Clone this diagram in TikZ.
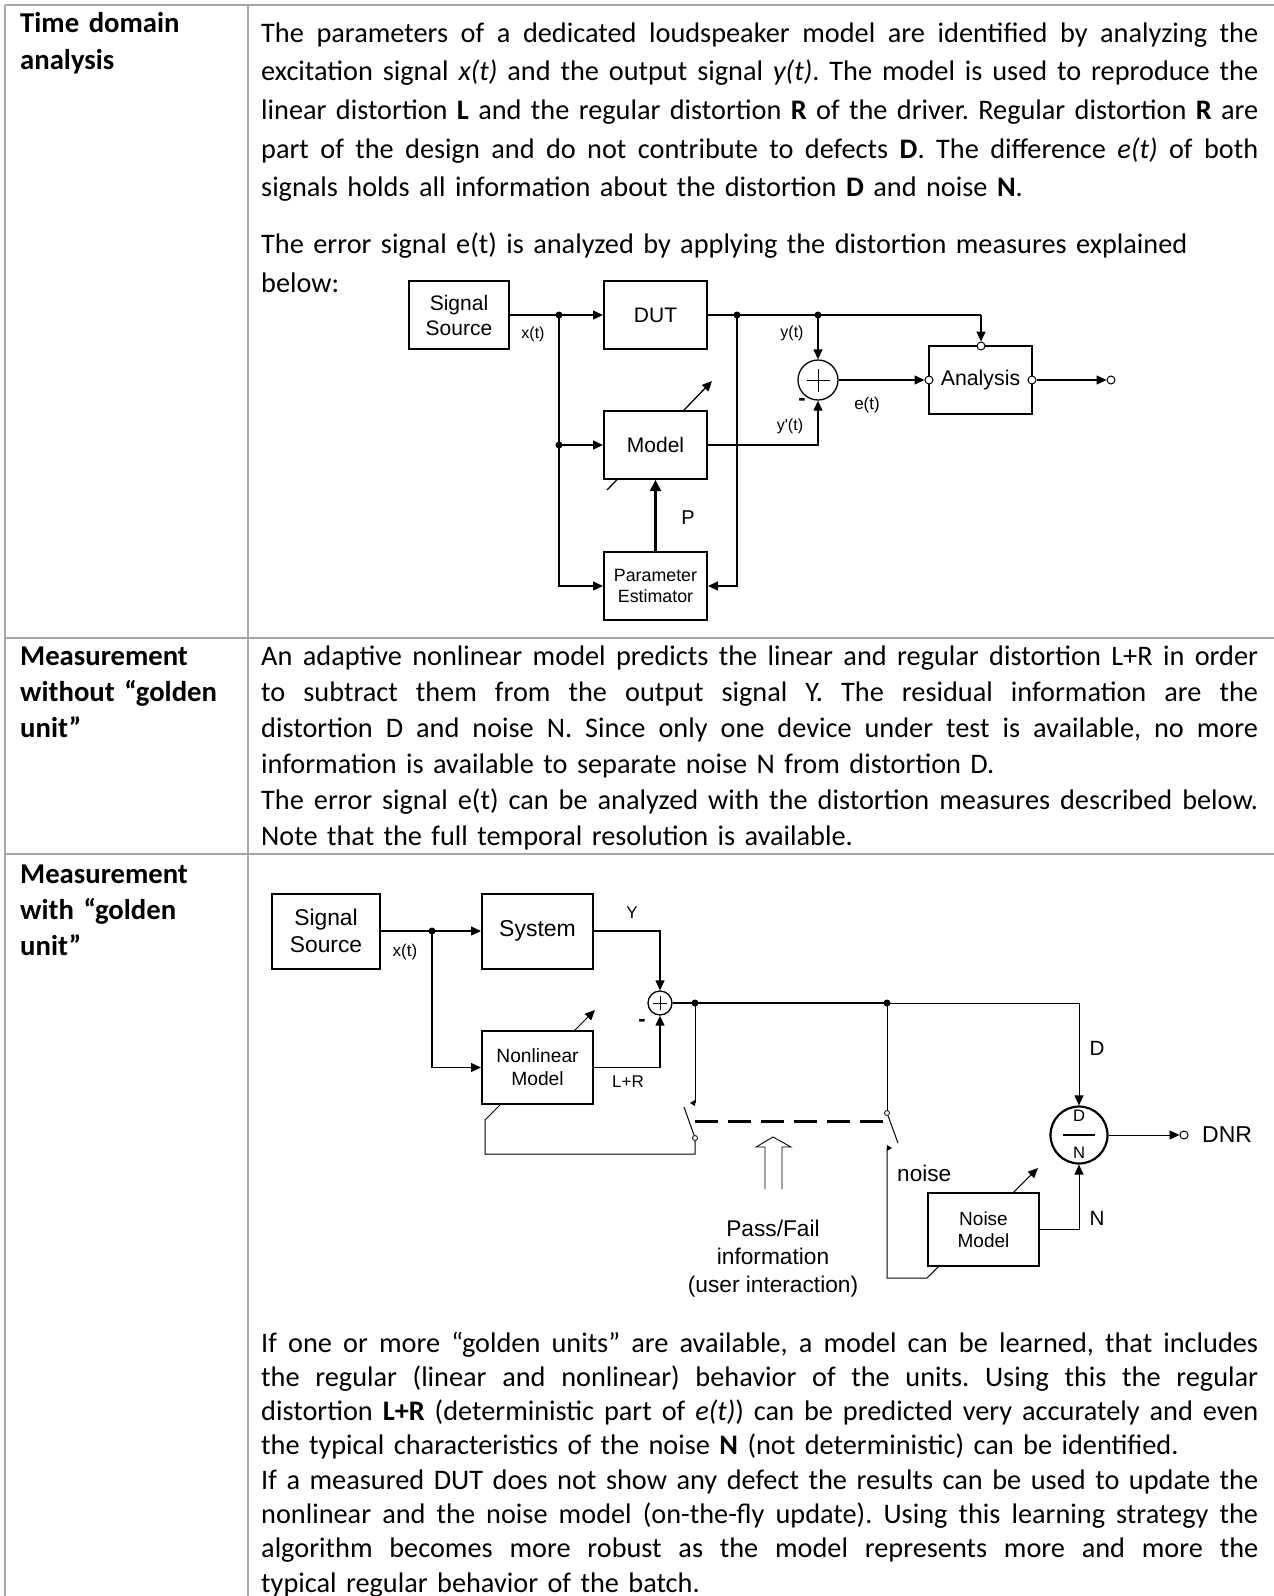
\documentclass[tikz,border=0pt]{standalone}
\usepackage{fontspec}
\setmainfont{Carlito}
\newfontfamily\arial{Liberation Sans}
\usetikzlibrary{arrows.meta}
\pgfdeclarelayer{bg}
\pgfsetlayers{bg,main}
\newcommand\J[1]{{\spaceskip=\fontdimen2\font plus 3\fontdimen2\font minus .35\fontdimen2\font\relax\makebox[\linewidth][s]{#1}}}
\begin{document}
\begin{tikzpicture}[x=1pt,y=-1pt,
  tline/.style={draw=black!35,line width=1.3pt},
  body/.style={anchor=base west,inner sep=0pt,text width=997pt,align=left},
  head/.style={anchor=base west,inner sep=0pt,text width=225pt,align=left},
  blk/.style={draw,line width=2pt,fill=white,inner sep=0pt,align=center},
  wire/.style={line width=1.3pt},
  thinw/.style={line width=1pt},
  arr/.style={-{Triangle[length=10pt,width=9pt]}},
  jdot/.style={circle,fill,inner sep=0pt,minimum size=7pt},
  ocirc/.style={circle,draw,fill=white,inner sep=0pt,minimum size=8pt,line width=1pt},
  scirc/.style={circle,draw,fill=white,inner sep=0pt,minimum size=5pt,line width=0.8pt},
  lab/.style={inner sep=0pt},
]
\useasboundingbox (0,0) rectangle (1274,1596);
\begin{pgfonlayer}{bg}
\fill[white] (0,0) rectangle (1274,1596);
\draw[tline] (5,5) -- (1274,5);
\draw[tline] (5,638) -- (1274,638);
\draw[tline] (5,854) -- (1274,854);
\draw[tline] (5,5) -- (5,1596);
\draw[tline] (248,5) -- (248,1596);
\end{pgfonlayer}

% ---------- table text ----------
\node[head,font=\bfseries\fontsize{28.7}{37}\selectfont] (h1) at (20,32.5) {Time domain\\analysis};
\node[head,font=\bfseries\fontsize{28.7}{36}\selectfont] (h2) at (20,665) {Measurement\\without “golden\\unit”};
\node[head,font=\bfseries\fontsize{28.7}{36}\selectfont] (h3) at (20,883) {Measurement\\with “golden\\unit”};

\node[body,font=\frenchspacing\fontsize{28.3}{38.7}\selectfont] (t1) at (261,42) {%
\J{The parameters of a dedicated loudspeaker model are identified by analyzing the}\\
\J{excitation signal \textit{x(t)} and the output signal \textit{y(t)}. The model is used to reproduce the}\\
\J{linear distortion \textbf{L} and the regular distortion \textbf{R} of the driver. Regular distortion \textbf{R} are}\\
\J{part of the design and do not contribute to defects \textbf{D}. The difference \textit{e(t)} of both}\\
signals holds all information about the distortion \textbf{D} and noise \textbf{N}.};

\node[body,font=\frenchspacing\fontsize{28.3}{39}\selectfont] (t2) at (261,253) {%
The error signal e(t) is analyzed by applying the distortion measures explained\\
below:};

\node[body,font=\frenchspacing\fontsize{28.3}{36}\selectfont] (t3) at (261,665) {%
\J{An adaptive nonlinear model predicts the linear and regular distortion L+R in order}\\
\J{to subtract them from the output signal Y. The residual information are the}\\
\J{distortion D and noise N. Since only one device under test is available, no more}\\
information is available to separate noise N from distortion D.\\
\J{The error signal e(t) can be analyzed with the distortion measures described below.}\\
Note that the full temporal resolution is available.};

\node[body,font=\frenchspacing\fontsize{28.3}{34.3}\selectfont] (t4) at (261,1352) {%
\J{If one or more “golden units” are available, a model can be learned, that includes}\\
\J{the regular (linear and nonlinear) behavior of the units. Using this the regular}\\
\J{distortion \textbf{L+R} (deterministic part of \textit{e(t)}) can be predicted very accurately and even}\\
the typical characteristics of the noise \textbf{N} (not deterministic) can be identified.\\
\J{If a measured DUT does not show any defect the results can be used to update the}\\
\J{nonlinear and the noise model (on-the-fly update). Using this learning strategy the}\\
\J{algorithm becomes more robust as the model represents more and more the}\\
typical regular behavior of the batch.};

% ---------- diagram 1 ----------
\coordinate (ad1s) at (607,490);
\coordinate (ad1e) at (712,381);
\begin{pgfonlayer}{bg}
\draw[wire,arr] (ad1s) -- (ad1e);
\end{pgfonlayer}

\node[blk,minimum width=100pt,minimum height=68pt,font=\arial\fontsize{21}{25}\selectfont] (ss1) at (459,315) {Signal\\Source};
\node[blk,minimum width=103pt,minimum height=68pt,font=\arial\fontsize{21}{25}\selectfont] (dut) at (655.5,315) {DUT};
\node[blk,minimum width=103pt,minimum height=68pt,font=\arial\fontsize{21}{25}\selectfont] (model) at (655.5,445) {Model};
\node[blk,minimum width=103pt,minimum height=68pt,font=\arial\fontsize{17.8}{21}\selectfont] (pe) at (655.5,586) {Parameter\\Estimator};
\node[blk,minimum width=103pt,minimum height=68pt,font=\arial\fontsize{21.3}{25}\selectfont] (an) at (980.5,380) {Analysis};
\node[circle,draw,fill=white,line width=1.3pt,minimum size=40pt,inner sep=0pt] (sum1) at (818,380) {};
\draw[line width=1pt] ([xshift=-11.5pt]sum1.center) -- ([xshift=11.5pt]sum1.center);
\draw[line width=1pt] ([yshift=-11.5pt]sum1.center) -- ([yshift=11.5pt]sum1.center);

\node[jdot] (j1) at (559,315) {};
\node[jdot] (j2) at (559,445) {};
\node[jdot] (j3) at (737,315) {};
\node[jdot] (j4) at (818,315) {};
\coordinate (cA) at (981,315);
\node[ocirc] (oT) at (981,346) {};
\node[ocirc] (oL) at (929,380) {};
\node[ocirc] (oR) at (1032,380) {};
\node[ocirc] (out1) at (1111,380) {};

\draw[wire,arr] (ss1.east) -- (dut.west);
\draw[wire,arr] (j1.center) -- (j2.center) -- (model.west);
\draw[wire,arr] (j2.center) |- (pe.west);
\draw[wire] (dut.east) -- (cA);
\draw[wire,arr] (cA) -- (oT.north);
\draw[wire,arr] (j3.center) |- (pe.east);
\draw[wire,arr] (j4.center) -- (sum1.north);
\draw[wire,arr] (model.east) -| (sum1.south);
\draw[wire,arr] (sum1.east) -- (oL.west);
\draw[wire,arr] (oR.east) -- (out1.west);
\draw[line width=2.5pt,-{Triangle[length=11pt,width=11pt]}] (pe.north) -- (model.south);

\node[lab,font=\arial\fontsize{16}{19}\selectfont] (lx1) at (533,334) {x(t)};
\node[lab,font=\arial\fontsize{16}{19}\selectfont] (ly1) at (792,333) {y(t)};
\node[lab,font=\arial\fontsize{16}{19}\selectfont] (lyp1) at (790,426) {y'(t)};
\node[lab,font=\arial\fontsize{17}{20}\selectfont] (le1) at (867,405) {e(t)};
\node[lab,font=\arial\fontsize{20}{24}\selectfont] (lp1) at (688,518) {P};
\node[lab,font=\arial\bfseries\fontsize{22}{24}\selectfont] (lm1) at (802,402) {-};

% ---------- diagram 2 ----------
\coordinate (fb1) at (695,1154);
\coordinate (fb2) at (485,1154);
\coordinate (fb3) at (485,1120);
\coordinate (ad2e) at (595,1010);
\coordinate (nb1) at (887,1278);
\coordinate (nb2) at (927,1278);
\coordinate (ad3e) at (1038,1168);
\coordinate (sw1c) at (695,1103);
\coordinate (sw1b) at (684,1107);
\coordinate (sw2b) at (898,1143);
\coordinate (sw2c) at (887,1148);
\coordinate (ds1) at (695,1121);
\coordinate (ds2) at (885,1121);
\node[scirc] (sw1p) at (695,1138) {};
\node[scirc] (sw2p) at (887,1113) {};

\begin{pgfonlayer}{bg}
\draw[thinw,arr] (sw1p.south) -- (fb1) -- (fb2) -- (fb3) -- (ad2e);
\draw[thinw,arr] (sw2c) -- (nb1) -- (nb2) -- (ad3e);
\end{pgfonlayer}

\node[blk,minimum width=108pt,minimum height=75pt,font=\arial\fontsize{22.8}{27}\selectfont] (ss2) at (326,931) {Signal\\Source};
\node[blk,minimum width=111pt,minimum height=75pt,font=\arial\fontsize{23}{27}\selectfont] (sys) at (537.5,931) {System};
\node[blk,minimum width=111pt,minimum height=73pt,font=\arial\fontsize{19.2}{23}\selectfont] (nl) at (537.5,1067.5) {Nonlinear\\Model};
\node[blk,minimum width=111pt,minimum height=73pt,font=\arial\fontsize{19}{22}\selectfont] (nm) at (983.5,1229.5) {Noise\\Model};
\node[circle,draw,fill=white,line width=1.3pt,minimum size=24pt,inner sep=0pt] (sum2) at (660,1003) {};
\draw[line width=1pt] ([xshift=-7pt]sum2.center) -- ([xshift=7pt]sum2.center);
\draw[line width=1pt] ([yshift=-7pt]sum2.center) -- ([yshift=7pt]sum2.center);
\node[circle,draw,fill=white,line width=2.2pt,minimum size=57pt,inner sep=0pt] (dn) at (1079,1135) {};
\draw[line width=2pt] ([xshift=-16pt]dn.center) -- ([xshift=16pt]dn.center);
\node[lab,font=\arial\fontsize{16.6}{19}\selectfont] (dD) at (1079,1116) {D};
\node[lab,font=\arial\fontsize{16.6}{19}\selectfont] (dN) at (1079,1153) {N};

\node[jdot] (k1) at (432,931) {};
\node[jdot] (k2) at (695,1003) {};
\node[jdot] (k3) at (887,1003) {};
\node[ocirc] (out2) at (1184,1135) {};

\draw[wire,arr] (ss2.east) -- (sys.west);
\draw[wire,arr] (k1.center) |- (nl.west);
\draw[wire,arr] (sys.east) -| (sum2.north);
\draw[wire,arr] (nl.east) -| (sum2.south);
\draw[line width=1.8pt] (sum2.east) -- (k3.center);
\draw[thinw,arr] (k3.center) -| (dn.north);
\draw[thinw] (k2.center) -- (sw1c);
\fill (695,1100) -- (695,1106) -- (690,1103) -- cycle;
\draw[thinw] (sw1p) -- (sw1b);
\draw[thinw] (k3.center) -- (sw2p.north);
\draw[thinw] (sw2p) -- (sw2b);
\fill (887,1145) -- (887,1151) -- (892,1148) -- cycle;
\draw[line width=3pt,dash pattern=on 23pt off 10pt] (ds1) -- (ds2);
\draw[thinw,arr] (nm.east) -| (dn.south);
\draw[thinw,arr] (dn.east) -- (out2.west);
\draw[line width=0.9pt] (765,1189) -- (765,1147) -- (756,1147) -- (773,1137) -- (791,1147) -- (782,1147) -- (782,1189);

\node[lab,font=\arial\fontsize{17}{20}\selectfont] (lx2) at (405,952) {x(t)};
\node[lab,font=\arial\fontsize{17}{20}\selectfont] (lY) at (632,913) {Y};
\node[lab,font=\arial\fontsize{17}{20}\selectfont] (lLR) at (628,1082) {L+R};
\node[lab,font=\arial\bfseries\fontsize{22}{24}\selectfont] (lm2) at (642,1023) {-};
\node[lab,font=\arial\fontsize{20.6}{24}\selectfont] (lD) at (1097,1048) {D};
\node[lab,font=\arial\fontsize{20.6}{24}\selectfont] (lN) at (1097,1218) {N};
\node[lab,anchor=west,font=\arial\fontsize{22.6}{26}\selectfont] (lnoise) at (897,1173) {noise};
\node[lab,anchor=west,font=\arial\fontsize{23}{26}\selectfont] (lDNR) at (1202,1135) {DNR};
\node[lab,align=center,font=\arial\fontsize{22.7}{28}\selectfont] (lpf) at (773,1259) {Pass/Fail\\information\\(user interaction)};
\end{tikzpicture}
\end{document}
